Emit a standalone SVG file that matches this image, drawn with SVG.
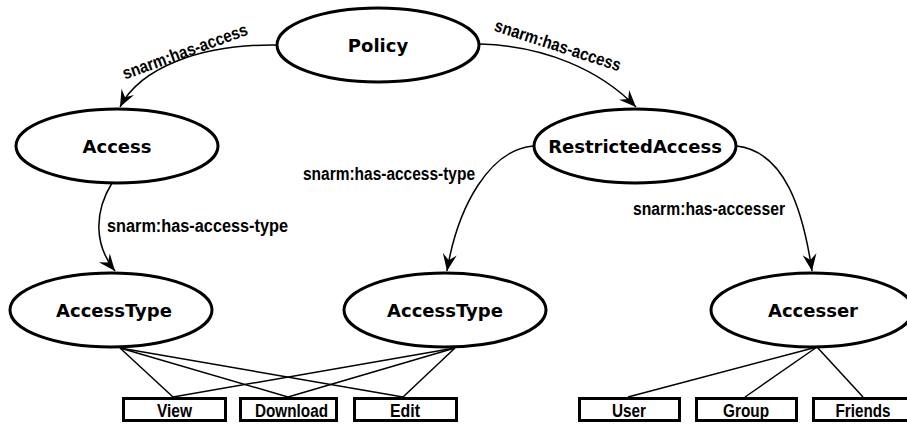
<svg xmlns="http://www.w3.org/2000/svg" width="907" height="424" viewBox="0 0 907 424">
<style>
.node ellipse{fill:#fff;stroke:#000;stroke-width:3}
.node text{font-family:"DejaVu Sans",sans-serif;font-weight:bold;font-size:18px;text-anchor:middle;fill:#000}
.box rect{fill:#fff;stroke:#000;stroke-width:3}
.box text{font-family:"Liberation Sans",Arial,sans-serif;font-weight:bold;font-size:18px;text-anchor:middle;fill:#000}
.edge{fill:none;stroke:#000;stroke-width:1.5}
.link{stroke:#000;stroke-width:1.5}
.lbl{font-family:"Liberation Sans",Arial,sans-serif;font-weight:bold;font-size:17.5px;fill:#000}
</style>
<defs>
<marker id="arr" markerUnits="userSpaceOnUse" viewBox="-18 -8 20 16" refX="0" refY="0" markerWidth="20" markerHeight="16" orient="auto">
<path d="M0,0 L-17,-7 L-11,0 L-17,7 Z" fill="#000"/>
</marker>
</defs>
<rect width="907" height="424" fill="#fff"/>
<g id="connectors">
<path class="edge" d="M277,45 C200,44 140,68 120,107" marker-end="url(#arr)"/>
<path class="edge" d="M480,44 C545,46 600,70 636,107" marker-end="url(#arr)"/>
<path class="edge" d="M112,183 C94,212 94,245 115,271" marker-end="url(#arr)"/>
<path class="edge" d="M533,146 C490,150 458,205 447,271" marker-end="url(#arr)"/>
<path class="edge" d="M737,146 C785,152 803,210 812,271" marker-end="url(#arr)"/>
<line class="link" x1="120" y1="348" x2="173" y2="397"/>
<line class="link" x1="120" y1="348" x2="288" y2="397"/>
<line class="link" x1="120" y1="348" x2="403" y2="397"/>
<line class="link" x1="455" y1="348" x2="173" y2="397"/>
<line class="link" x1="455" y1="348" x2="288" y2="397"/>
<line class="link" x1="455" y1="348" x2="403" y2="397"/>
<line class="link" x1="817" y1="347" x2="628" y2="397"/>
<line class="link" x1="817" y1="347" x2="745" y2="397"/>
<line class="link" x1="817" y1="347" x2="863" y2="397"/>
<text class="lbl" transform="translate(187,57) rotate(-20)" text-anchor="middle" textLength="132" lengthAdjust="spacingAndGlyphs">snarm:has-access</text>
<text class="lbl" transform="translate(556,51) rotate(18)" text-anchor="middle" textLength="132" lengthAdjust="spacingAndGlyphs">snarm:has-access</text>
<text class="lbl" x="303" y="180" textLength="172" lengthAdjust="spacingAndGlyphs">snarm:has-access-type</text>
<text class="lbl" x="107" y="232" textLength="181" lengthAdjust="spacingAndGlyphs">snarm:has-access-type</text>
<text class="lbl" x="633" y="215" textLength="152" lengthAdjust="spacingAndGlyphs">snarm:has-accesser</text>
</g>
<g id="policy" class="node"><ellipse cx="378" cy="45" rx="101" ry="37"/><text x="378" y="52">Policy</text></g>
<g id="access" class="node"><ellipse cx="117" cy="146" rx="101" ry="37"/><text x="117" y="153">Access</text></g>
<g id="restricted-access" class="node"><ellipse cx="635" cy="146" rx="101" ry="37"/><text x="635" y="153">RestrictedAccess</text></g>
<g id="accesstype-1" class="node"><ellipse cx="111" cy="310" rx="101" ry="37"/><text x="114" y="317">AccessType</text></g>
<g id="accesstype-2" class="node"><ellipse cx="445" cy="310" rx="101" ry="37"/><text x="445" y="317">AccessType</text></g>
<g id="accesser" class="node"><ellipse cx="812" cy="310" rx="101" ry="37"/><text x="813" y="317">Accesser</text></g>
<g id="view" class="box"><rect x="123.5" y="398.5" width="102" height="22"/><text x="174.5" y="416.5" textLength="35" lengthAdjust="spacingAndGlyphs">View</text></g>
<g id="download" class="box"><rect x="240.5" y="398.5" width="96" height="22"/><text x="291.5" y="416.5" textLength="73" lengthAdjust="spacingAndGlyphs">Download</text></g>
<g id="edit" class="box"><rect x="354.5" y="398.5" width="102" height="22"/><text x="405" y="416.5" textLength="30" lengthAdjust="spacingAndGlyphs">Edit</text></g>
<g id="user" class="box"><rect x="579.5" y="398.5" width="100" height="22"/><text x="629" y="416.5" textLength="34" lengthAdjust="spacingAndGlyphs">User</text></g>
<g id="group" class="box"><rect x="696.5" y="398.5" width="100" height="22"/><text x="746" y="416.5" textLength="46" lengthAdjust="spacingAndGlyphs">Group</text></g>
<g id="friends" class="box"><rect x="813.5" y="398.5" width="100" height="22"/><text x="863" y="416.5" textLength="55" lengthAdjust="spacingAndGlyphs">Friends</text></g>
</svg>
